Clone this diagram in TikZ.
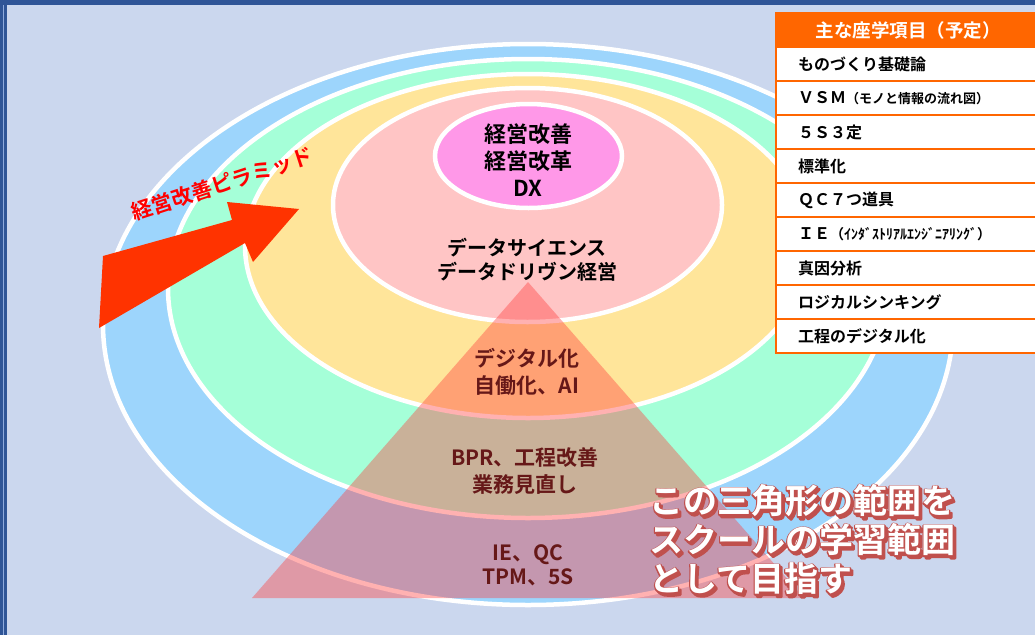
\documentclass[tikz,border=0pt]{standalone}
\usepackage{fontspec}
\newfontfamily\jp{Noto Sans CJK JP Bold}
\definecolor{bgc}{HTML}{CBD7EE}
\definecolor{borderc}{HTML}{2F5597}
\definecolor{borderl}{HTML}{8FAADC}
\definecolor{ringblue}{HTML}{9DD5FC}
\definecolor{ringgreen}{HTML}{A5FFD8}
\definecolor{ringyellow}{HTML}{FFE59A}
\definecolor{ringpink}{HTML}{FFC5C5}
\definecolor{ringmag}{HTML}{FF98E8}
\definecolor{tric}{HTML}{FF3C3C}
\definecolor{arrowc}{HTML}{FF3300}
\definecolor{tabor}{HTML}{FF6600}
\definecolor{shadowc}{HTML}{C0504D}
\newcommand\strokeon{\special{pdf:literal 0.753 0.314 0.302 RG 2.6 w 1 j 2 Tr}}
\newcommand\strokeoff{\special{pdf:literal 0 Tr}}
\newcommand\shline[1]{\rlap{\kern2.2pt\raisebox{-2.2pt}{\textcolor{shadowc}{\strokeon#1\strokeoff}}}\rlap{\textcolor{shadowc}{\strokeon#1\strokeoff}}#1}
\tikzset{
  ring/.style={draw=white, line width=4.5pt},
  midtext/.style={font=\jp\fontsize{21}{27}\selectfont, text=black, align=center, inner sep=0pt},
  tabline/.style={draw=tabor, line width=1.2pt},
  rowtext/.style={font=\jp\fontsize{16}{18}\selectfont, text=black, anchor=west, inner sep=0pt},
  bigtext/.style={font=\jp\fontsize{34}{39}\selectfont, align=left, anchor=west, inner sep=0pt},
}
\begin{document}
\begin{tikzpicture}[x=1pt,y=-1pt]
\useasboundingbox (0,0) rectangle (1035,635);
\fill[bgc] (0,0) rectangle (1035,635);
\fill[borderc] (0,0) rectangle (1035,5);
\fill[borderc] (0,0) rectangle (7,635);
\draw[borderl, line width=0.8pt] (3,5) -- (3,635);
% rings
\path[ring, fill=ringblue] (528,324.5) ellipse [x radius=425pt, y radius=280.5pt];
\path[ring, fill=ringgreen] (528,288.5) ellipse [x radius=360pt, y radius=229.5pt];
\path[ring, fill=ringyellow] (528,246) ellipse [x radius=283pt, y radius=172pt];
\path[ring, fill=ringpink] (527.5,205) ellipse [x radius=194.5pt, y radius=117pt];
\path[ring, fill=ringmag] (528.5,156) ellipse [x radius=93.5pt, y radius=52pt];
% texts
\node[midtext, font=\jp\fontsize{22}{27}\selectfont] (top) at (528,160) {経営改善\\経営改革\\DX};
\node[midtext, font=\jp\fontsize{20}{24}\selectfont] (data) at (527,260) {データサイエンス\\データドリヴン経営};
\node[midtext] (dig) at (527,371.5) {デジタル化\\自働化、AI};
\node[midtext] (bpr) at (525,471.5) {BPR、工程改善\\業務見直し};
\node[midtext, font=\jp\fontsize{21}{24}\selectfont] (ie) at (528,565) {IE、QC\\TPM、5S};
% triangle
\fill[tric, fill opacity=0.4] (528,282) -- (804,598) -- (252,598) -- cycle;
% arrow
\fill[arrowc] (103,256) -- (232,220) -- (227,202) -- (299,209) -- (253,262) -- (245,243) -- (99,328) -- cycle;
\node[rotate=18, text=red, font=\jp\fontsize{21}{24}\selectfont, inner sep=0pt] (lbl) at (222,184) {経営改善ピラミッド};
% table
\fill[white] (776,13) rectangle (1045,353);
\fill[tabor] (776,13) rectangle (1045,47);
\foreach \i in {1,...,9} \draw[tabline] (776,{13+34*\i}) -- (1045,{13+34*\i});
\draw[tabline] (1045,13) -- (776,13) -- (776,353) -- (1045,353);
\node[font=\jp\fontsize{18.5}{20}\selectfont, text=white, inner sep=0pt] (head) at (908,30) {主な座学項目（予定）};
\node[rowtext] (r1) at (798,64) {ものづくり基礎論};
\node[rowtext] (r2) at (798,98) {ＶＳＭ{\fontsize{13}{15}\selectfont （モノと情報の流れ図）}};
\node[rowtext] (r3) at (798,132) {５Ｓ３定};
\node[rowtext] (r4) at (798,166) {標準化};
\node[rowtext] (r5) at (798,200) {ＱＣ７つ道具};
\node[rowtext] (r6) at (798,234) {ＩＥ{\fontsize{14}{16}\selectfont （ｲﾝﾀﾞｽﾄﾘｱﾙｴﾝｼﾞﾆｱﾘﾝｸﾞ）}};
\node[rowtext] (r7) at (798,268) {真因分析};
\node[rowtext] (r8) at (798,302) {ロジカルシンキング};
\node[rowtext] (r9) at (798,336) {工程のデジタル化};
% bottom-right text with outline and shadow
\node[bigtext, text=white] (goal) at (649,541) {\shline{この三角形の範囲を}\\\shline{スクールの学習範囲}\\\shline{として目指す}};
\end{tikzpicture}
\end{document}
